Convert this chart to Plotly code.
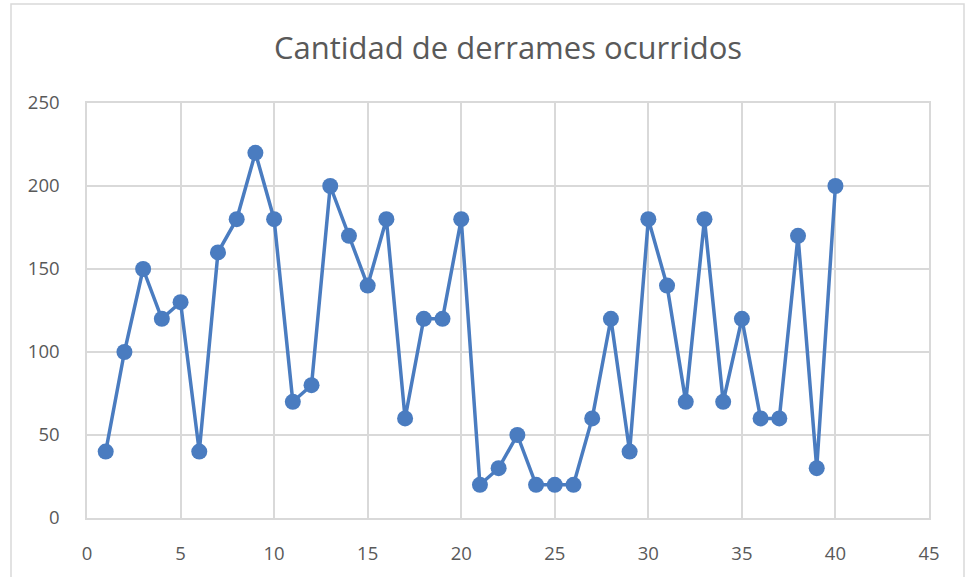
import plotly.graph_objects as go

x_vals = list(range(1, 41))
y_vals = [40, 100, 150, 120, 130, 40, 160, 180, 220, 180,
          70, 80, 200, 170, 140, 180, 60, 120, 120, 180,
          20, 30, 50, 20, 20, 20, 60, 120, 40, 180,
          140, 70, 180, 70, 120, 60, 60, 170, 30, 200]
title_text = "Cantidad de derrames ocurridos"

W, H = 965, 577
L, R, T, B = 87, 36, 103, 59
pw, ph = W - L - R, H - T - B

fig = go.Figure()
fig.add_trace(go.Scatter(
    x=x_vals, y=y_vals, mode="lines+markers",
    line=dict(color="#4A7CC0", width=3.5),
    marker=dict(color="#4A7CC0", size=16, line=dict(width=0)),
    showlegend=False,
))

grid = "#D9D9D9"
fnt = "Open Sans, Liberation Sans, sans-serif"
fig.update_layout(
    width=W, height=H,
    margin=dict(l=L, r=R, t=T, b=B),
    paper_bgcolor="white", plot_bgcolor="white",
    title=dict(text=title_text, x=0.5, xref="paper", xanchor="center",
               y=1 - 48 / H, yanchor="middle",
               font=dict(family=fnt, size=31, color="#595959")),
    font=dict(family=fnt, size=18.5, color="#595959"),
    xaxis=dict(range=[0, 45], tick0=0, dtick=5, showgrid=True, gridcolor=grid, gridwidth=1.5,
               zeroline=False, showline=True, linecolor=grid, linewidth=1.5, mirror=True,
               ticks="outside", ticklen=18, tickcolor="rgba(0,0,0,0)"),
    yaxis=dict(range=[0, 250], tick0=0, dtick=50, showgrid=True, gridcolor=grid, gridwidth=1.5,
               zeroline=False, showline=True, linecolor=grid, linewidth=1.5, mirror=True,
               ticks="outside", ticklen=22, tickcolor="rgba(0,0,0,0)"),
    shapes=[dict(type="rect", xref="paper", yref="paper",
                 x0=(11 - L) / pw, x1=(964 - L) / pw,
                 y0=-(H + 5 - (H - B)) / ph, y1=1 + (T - 4) / ph,
                 line=dict(color="#D9D9D9", width=1.5), fillcolor="rgba(0,0,0,0)", layer="below")],
)

fig.write_html("out.html", config={"displayModeBar": False},
               post_script="document.body.style.margin='0';")
